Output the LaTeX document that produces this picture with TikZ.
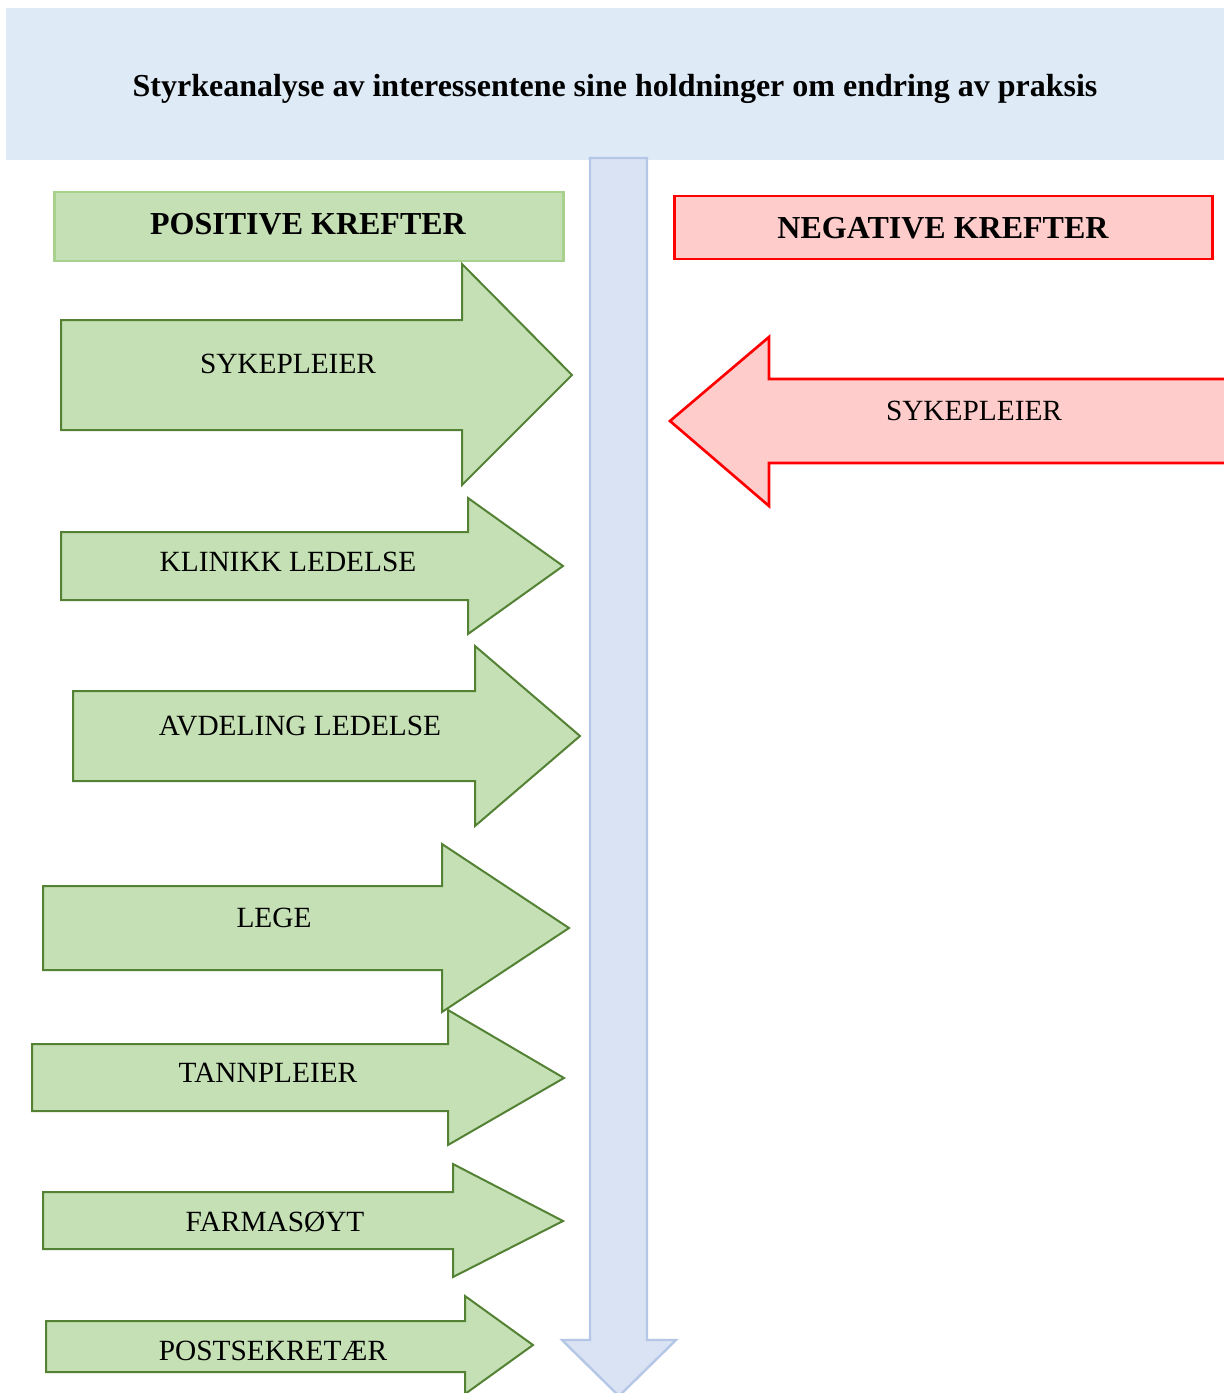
\documentclass[tikz,border=0pt]{standalone}
\usepackage{fontspec}
\setmainfont{Liberation Serif}
\definecolor{bannerfill}{HTML}{DEEAF6}
\definecolor{axisfill}{HTML}{DAE3F3}
\definecolor{axisline}{HTML}{B4C7E7}
\definecolor{posfill}{HTML}{C5E0B4}
\definecolor{posline}{HTML}{548235}
\definecolor{posboxline}{HTML}{A9D18E}
\definecolor{negfill}{HTML}{FFCCCC}
\definecolor{negline}{HTML}{FF0000}
\tikzset{
  posarrow/.style={fill=posfill, draw=posline, line width=1.5pt, line join=miter},
  negarrow/.style={fill=negfill, draw=negline, line width=2pt, line join=miter},
  axisarrow/.style={fill=axisfill, draw=axisline, line width=1.8pt, line join=miter},
  label/.style={font=\fontsize{22}{26}\selectfont, inner sep=0pt, anchor=center},
  header/.style={font=\bfseries\fontsize{24}{28}\selectfont, inner sep=0pt, anchor=center}
}
% right-pointing block arrow: shaft x0, shaft top/bottom, head x, head top/bottom, tip
\newcommand{\rightblock}[8]{%
  \path[posarrow] (#1,#2) -- (#4,#2) -- (#4,#5) -- (#7,#8) -- (#4,#6) -- (#4,#3) -- (#1,#3) -- cycle;}
\begin{document}
\begin{tikzpicture}[x=0.75pt, y=-0.75pt]
\useasboundingbox (0,0) rectangle (1224,1393);
\clip (0,0) rectangle (1224,1393);
\fill[white] (0,0) rectangle (1224,1393);

% title banner
\fill[bannerfill] (6,8) rectangle (1224,160);
\node[header] (title) at (615,89)
  {Styrkeanalyse av interessentene sine holdninger om endring av praksis};

% vertical axis arrow
\path[axisarrow] (590,158) -- (647,158) -- (647,1340) -- (676,1340) -- (619,1396)
  -- (562,1340) -- (590,1340) -- cycle;

% column headers
\node[draw=posboxline, fill=posfill, line width=2pt, minimum width=509*0.75pt,
  minimum height=69*0.75pt, inner sep=0pt] (posbox) at (309,226.5) {};
\node[header] (poshead) at (308,224) {POSITIVE KREFTER};
\node[draw=negline, fill=negfill, line width=2pt, minimum width=538*0.75pt,
  minimum height=63*0.75pt, inner sep=0pt] (negbox) at (943.5,227.5) {};
\node[header] (neghead) at (943,228) {NEGATIVE KREFTER};

% negative force
\path[negarrow] (1240,379) -- (769,379) -- (769,337) -- (670,421) -- (769,506)
  -- (769,463) -- (1240,463) -- cycle;
\node[label] (neg1) at (974,411) {SYKEPLEIER};

% positive forces
\rightblock{61}{320}{430}{462}{264}{485}{572}{375}
\node[label] (pos1) at (288,364) {SYKEPLEIER};

\rightblock{61}{532}{600}{468}{498}{634}{563}{566}
\node[label] (pos2) at (288,562) {KLINIKK LEDELSE};

\rightblock{73}{691}{781}{475}{646}{826}{580}{736}
\node[label] (pos3) at (300,726) {AVDELING LEDELSE};

\rightblock{43}{886}{970}{442}{844}{1012}{569}{928}
\node[label] (pos4) at (274,918) {LEGE};

\rightblock{32}{1044}{1111}{448}{1010}{1145}{564}{1078}
\node[label] (pos5) at (268,1073) {TANNPLEIER};

\rightblock{43}{1192}{1249}{453}{1164}{1277}{563}{1221}
\node[label] (pos6) at (275,1222) {FARMASØYT};

\rightblock{46}{1321}{1372}{465}{1296}{1394}{533}{1345}
\node[label] (pos7) at (273,1351) {POSTSEKRETÆR};
\end{tikzpicture}
\end{document}
